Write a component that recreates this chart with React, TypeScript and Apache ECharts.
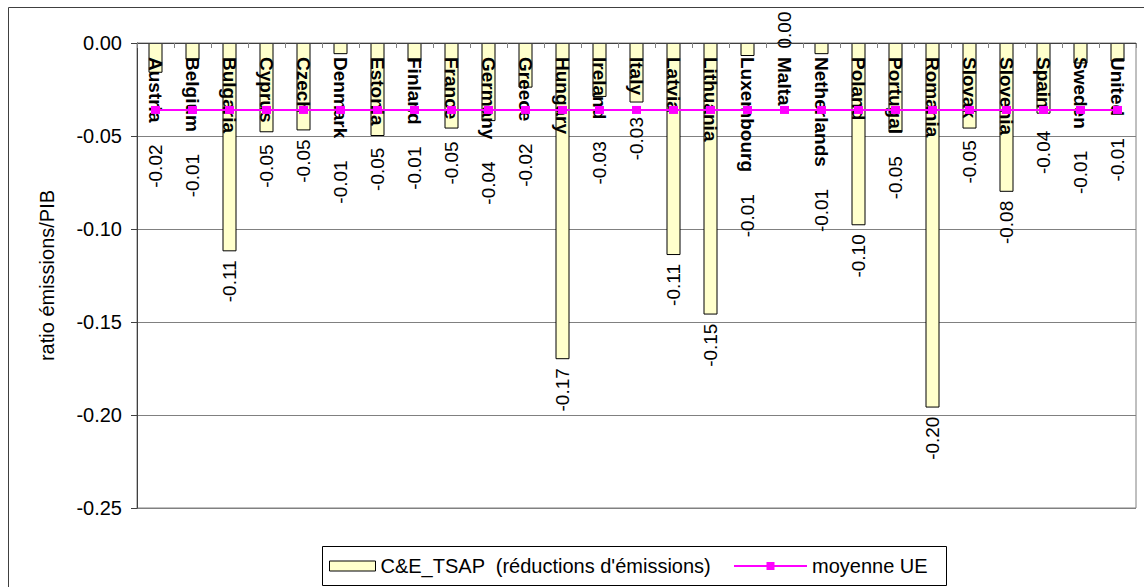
import React, { useEffect, useRef } from 'react';
import * as echarts from 'echarts';

const countries = [
  'Austria', 'Belgium', 'Bulgaria', 'Cyprus', 'Czech', 'Denmark', 'Estonia',
  'Finland', 'France', 'Germany', 'Greece', 'Hungary', 'Ireland', 'Italy',
  'Latvia', 'Lithuania', 'Luxembourg', 'Malta', 'Netherlands', 'Poland',
  'Portugal', 'Romania', 'Slovak', 'Slovenia', 'Spain', 'Sweden', 'United',
];

const reductions = [
  -0.016, -0.009, -0.112, -0.048, -0.047, -0.006, -0.05,
  -0.01, -0.046, -0.042, -0.024, -0.17, -0.029, -0.032,
  -0.114, -0.146, -0.007, 0, -0.006, -0.098,
  -0.048, -0.196, -0.046, -0.08, -0.038, -0.011, -0.01,
];

const euAverage = [
  -0.036, -0.036, -0.036, -0.036, -0.036, -0.036, -0.036,
  -0.036, -0.036, -0.036, -0.036, -0.036, -0.036, -0.036,
  -0.036, -0.036, -0.036, -0.036, -0.036, -0.036,
  -0.036, -0.036, -0.036, -0.036, -0.036, -0.036, -0.036,
];

const yMin = -0.25;
const yMax = 0;
const yStep = 0.05;

const barName = "C&E_TSAP  (réductions d'émissions)";
const lineName = 'moyenne UE';
const yTitle = 'ratio émissions/PIB';

const FONT = '"Liberation Sans", Arial, sans-serif';

export default function App() {
  const ref = useRef<HTMLDivElement>(null);

  useEffect(() => {
    if (!ref.current) return;
    const chart = echarts.init(ref.current, null, { renderer: 'svg' });

    const ctx = document.createElement('canvas').getContext('2d');
    let nameWidths: number[] = countries.map(() => 0);
    if (ctx) {
      ctx.font = `bold 19px ${FONT}`;
      nameWidths = countries.map((c) => ctx.measureText(c).width);
    }
    const nameMargin = 14;

    chart.setOption({
      animation: false,
      textStyle: { fontFamily: FONT },
      graphic: [
        {
          type: 'rect',
          silent: true,
          z: -1,
          shape: { x: 8.5, y: 7.5, width: 1150, height: 600 },
          style: { fill: 'none', stroke: '#404040', lineWidth: 1 },
        },
        {
          type: 'rect',
          silent: true,
          z: 1,
          shape: { x: 322.5, y: 546.5, width: 624, height: 39 },
          style: { fill: '#fff', stroke: '#000', lineWidth: 1 },
        },
      ],
      legend: [
        {
          data: [
            {
              name: barName,
              icon: 'rect',
              itemStyle: { color: '#FFFFCC', borderColor: '#000', borderWidth: 1 },
            },
          ],
          left: 329,
          top: 556,
          padding: 0,
          itemWidth: 46,
          itemHeight: 10,
          selectedMode: false,
          textStyle: { fontSize: 20, color: '#000', fontFamily: FONT },
          z: 5,
        },
        {
          data: [{ name: lineName }],
          left: 733,
          top: 556,
          padding: 0,
          itemWidth: 73,
          itemHeight: 10,
          selectedMode: false,
          textStyle: { fontSize: 20, color: '#000', fontFamily: FONT },
          z: 5,
        },
      ],
      grid: {
        left: 137,
        top: 43,
        right: 8,
        bottom: 79,
        show: true,
        borderColor: '#808080',
        borderWidth: 1,
        backgroundColor: 'transparent',
      },
      xAxis: {
        type: 'category',
        data: countries,
        position: 'top',
        z: 5,
        axisLine: { onZero: false, lineStyle: { color: '#404040', width: 1 } },
        axisTick: { show: true, inside: true, length: 5, lineStyle: { color: '#808080' } },
        axisLabel: {
          inside: true,
          interval: 0,
          rotate: 90,
          margin: nameMargin,
          fontSize: 19,
          fontWeight: 'bold',
          color: '#000',
          fontFamily: FONT,
        },
        splitLine: { show: false },
      },
      yAxis: {
        type: 'value',
        min: yMin,
        max: yMax,
        interval: yStep,
        name: yTitle,
        nameLocation: 'middle',
        nameRotate: 90,
        nameGap: 80,
        nameTextStyle: { fontSize: 20, color: '#000', fontFamily: FONT },
        axisLine: { show: true, lineStyle: { color: '#404040', width: 1 } },
        axisTick: { show: true, length: 6, lineStyle: { color: '#404040' } },
        axisLabel: {
          fontSize: 20,
          color: '#000',
          margin: 15,
          fontFamily: FONT,
          formatter: (v: number) => v.toFixed(2),
        },
        splitLine: { show: true, lineStyle: { color: '#808080', width: 1 } },
      },
      series: [
        {
          type: 'bar',
          name: barName,
          data: reductions,
          barWidth: 14,
          itemStyle: { color: '#FFFFCC', borderColor: '#000', borderWidth: 1 },
          label: {
            show: true,
            position: 'bottom',
            rotate: 90,
            align: 'right',
            verticalAlign: 'middle',
            distance: 9,
            fontSize: 19,
            color: '#000',
            fontFamily: FONT,
            formatter: (p: any) => Number(p.value).toFixed(2),
          },
          labelLayout: (p: any) => {
            const i = p.dataIndex;
            const r = p.rect;
            const top = Math.min(r.y, r.y + r.height);
            const bottom = Math.max(r.y, r.y + r.height);
            if (reductions[i] >= 0) {
              return { y: top + 6 - p.labelRect.height };
            }
            const y = Math.max(bottom + 9, top + nameMargin + nameWidths[i] + 22);
            return { y };
          },
          z: 2,
        },
        {
          type: 'line',
          name: lineName,
          data: euAverage,
          symbol: 'rect',
          symbolSize: [9, 8],
          showSymbol: true,
          lineStyle: { color: '#FF00FF', width: 2 },
          itemStyle: { color: '#FF00FF' },
          z: 6,
        },
      ],
    });

    return () => chart.dispose();
  }, []);

  return (
    <div
      ref={ref}
      style={{ position: 'fixed', left: 0, top: 0, width: 1144, height: 587, background: '#fff' }}
    />
  );
}
